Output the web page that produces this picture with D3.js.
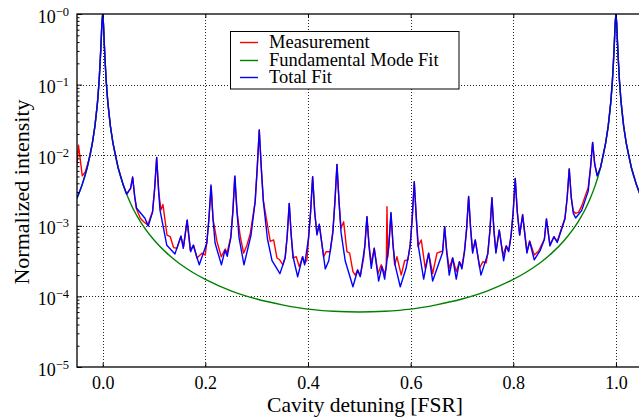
<!DOCTYPE html>
<html><head><meta charset="utf-8">
<script src="https://cdn.jsdelivr.net/npm/d3@7"></script>
<style>body{margin:0;background:#fff}svg{display:block}</style>
</head><body><svg id="c" width="639" height="419"></svg>
<script>
// ---------- data ----------
const xTicks = [0, 0.2, 0.4, 0.6, 0.8, 1.0];
const yTicks = [1, 1e-1, 1e-2, 1e-3, 1e-4, 1e-5];
const yTickExp = ["0", "1", "2", "3", "4", "5"];
const seriesNames = ["Measurement", "Fundamental Mode Fit", "Total Fit"];
const seriesColors = ["#ff0000", "#008000", "#0000ff"];

// [detuning (FSR), normalized intensity]
const mainPeak0 = [[-0.02,1.5e-2],[-0.015,2.6e-2],[-0.01,5.7e-2],[-0.007,0.11],[-0.005,0.20],[-0.003,0.40],[-0.0015,0.73],[0,1.0],[0.0015,0.73],[0.003,0.40],[0.005,0.20],[0.007,0.11],[0.01,5.7e-2],[0.015,2.6e-2],[0.02,1.5e-2],[0.03,6.7e-3],[0.04,3.8e-3]];
const mainPeak1 = [[0.97,6.7e-3],[0.98,1.5e-2],[0.985,2.6e-2],[0.99,5.7e-2],[0.993,0.11],[0.995,0.20],[0.997,0.40],[0.9985,0.73],[1.0,1.0],[1.0015,0.73],[1.003,0.40],[1.005,0.20],[1.007,0.11],[1.01,5.7e-2],[1.015,2.6e-2],[1.02,1.5e-2],[1.03,6.7e-3],[1.04,3.8e-3],[1.05,2.45e-3]];

const measurementMid = [[0.0468,2.8e-3],[0.0544,3.4e-3],[0.0584,4.9e-3],[0.0624,2.6e-3],[0.0655,1.77e-3],[0.0733,1.28e-3],[0.0799,1.14e-3],[0.0877,1.03e-3],[0.0972,1.6e-3],[0.1012,3.3e-3],[0.1052,9.3e-3],[0.1092,3.0e-3],[0.1136,1.67e-3],[0.1175,2.0e-3],[0.1253,7.4e-4],[0.1317,7.0e-4],[0.1383,4.9e-4],[0.1448,4.8e-4],[0.1525,7.0e-4],[0.1578,5.1e-4],[0.1642,1.18e-3],[0.1707,4.5e-4],[0.1773,5.3e-4],[0.1837,3.5e-4],[0.1935,4.1e-4],[0.1999,3.85e-4],[0.203,6.0e-4],[0.207,1.25e-3],[0.2116,3.6e-3],[0.215,1.25e-3],[0.2227,6.0e-4],[0.2311,3.65e-4],[0.2388,4.7e-4],[0.2422,4.1e-4],[0.2497,7.0e-4],[0.2537,1.6e-3],[0.2572,4.96e-3],[0.2617,1.6e-3],[0.2681,7.0e-4],[0.2747,4.1e-4],[0.2811,5.3e-4],[0.2876,7.8e-4],[0.2971,2.2e-3],[0.3011,6.5e-3],[0.3051,2.28e-2],[0.3091,6.5e-3],[0.3131,2.3e-3],[0.3156,1.77e-3],[0.3201,1.13e-3],[0.3265,6.0e-4],[0.3331,6.3e-4],[0.3396,3.5e-4],[0.3448,3.3e-4],[0.3513,2.8e-4],[0.3557,3.65e-4],[0.3595,7.1e-4],[0.3635,2.08e-3],[0.3675,7.1e-4],[0.3707,3.5e-4],[0.3772,3.65e-4],[0.383,2.64e-4],[0.3896,3.65e-4],[0.3935,2.94e-4],[0.398,3.3e-4],[0.4011,6.7e-4],[0.4051,1.57e-3],[0.4091,4.96e-3],[0.4131,1.57e-3],[0.4175,7.8e-4],[0.422,1.05e-3],[0.4305,3.65e-4],[0.4356,4.3e-4],[0.4434,4.3e-4],[0.4485,8.5e-4],[0.4525,2.2e-3],[0.4565,7.4e-3],[0.4605,2.2e-3],[0.4643,9.2e-4],[0.4695,1.14e-3],[0.4759,4.3e-4],[0.4812,4.1e-4],[0.4876,2.24e-4],[0.4921,2.0e-4],[0.4968,2.37e-4],[0.5019,1.96e-4],[0.5085,3.5e-4],[0.5109,5.4e-4],[0.5149,1.35e-3],[0.5189,5.4e-4],[0.5233,2.94e-4],[0.5291,4.8e-4],[0.5364,2.1e-4],[0.5428,2.8e-4],[0.5494,2.1e-4],[0.5525,2.6e-4],[0.5539,1.87e-3],[0.5555,3.6e-4],[0.5577,5.4e-4],[0.5617,1.5e-3],[0.5657,5.4e-4],[0.5689,2.8e-4],[0.5733,3.65e-4],[0.5817,2.0e-4],[0.5883,3.2e-4],[0.5948,3.3e-4],[0.5991,5.5e-4],[0.6031,1.28e-3],[0.6071,4.2e-3],[0.6111,1.28e-3],[0.6143,5.1e-4],[0.6207,6.3e-4],[0.6285,2.5e-4],[0.6351,4.1e-4],[0.6429,2.1e-4],[0.6513,4.1e-4],[0.6623,4.4e-4],[0.6663,9.7e-4],[0.6703,4.4e-4],[0.6752,2.5e-4],[0.6819,3.5e-4],[0.6889,2.24e-4],[0.6951,3.1e-4],[0.70,2.64e-4],[0.705,4.5e-4],[0.709,8.9e-4],[0.713,2.6e-3],[0.717,8.9e-4],[0.7208,4.3e-4],[0.7259,6.3e-4],[0.7345,2.55e-4],[0.7409,3.1e-4],[0.7473,3.0e-4],[0.7504,4.2e-4],[0.7544,8.4e-4],[0.7584,2.5e-3],[0.7624,8.4e-4],[0.7662,4.3e-4],[0.7727,8.7e-4],[0.7799,3.85e-4],[0.7863,5.2e-4],[0.791,4.4e-4],[0.7958,7.4e-4],[0.7998,1.57e-3],[0.8038,4.7e-3],[0.8078,1.57e-3],[0.8124,7.4e-4],[0.8182,1.45e-3],[0.8266,4.3e-4],[0.8319,6.1e-4],[0.8408,3.85e-4],[0.8494,4.4e-4],[0.8606,6.5e-4],[0.8646,1.25e-3],[0.8714,5.4e-4],[0.8792,7.0e-4],[0.8856,6.0e-4],[0.9007,1.3e-3],[0.905,2.5e-3],[0.909,6.4e-3],[0.913,2.5e-3],[0.917,1.6e-3],[0.9215,1.5e-3],[0.927,1.55e-3],[0.9332,1.9e-3],[0.946,3.5e-3],[0.9506,6.8e-3],[0.9546,1.52e-2],[0.9586,7.5e-3],[0.9636,5.1e-3]];
const measurementEdge = [[-0.05,7.3e-3],[-0.0471,1.39e-2],[-0.0397,5.1e-3],[-0.0339,5.8e-3],[-0.0242,1.0e-2]];

const totalFitMid = [[0.0468,2.8e-3],[0.0544,3.4e-3],[0.0584,4.9e-3],[0.0624,2.6e-3],[0.0662,1.77e-3],[0.0824,1.28e-3],[0.0888,9.9e-4],[0.0972,1.56e-3],[0.1012,3.3e-3],[0.1052,9.3e-3],[0.1092,3.0e-3],[0.1117,1.67e-3],[0.125,5.3e-4],[0.1409,4.0e-4],[0.1525,7.2e-4],[0.157,4.8e-4],[0.1648,1.21e-3],[0.1714,4.3e-4],[0.1765,5.3e-4],[0.1882,2.8e-4],[0.203,5.7e-4],[0.207,1.25e-3],[0.211,3.8e-3],[0.215,1.25e-3],[0.219,5.7e-4],[0.2314,2.8e-4],[0.2383,4.5e-4],[0.2427,3.7e-4],[0.2497,6.8e-4],[0.2537,1.6e-3],[0.2577,5.1e-3],[0.2617,1.6e-3],[0.2657,6.8e-4],[0.2753,2.8e-4],[0.2891,7.4e-4],[0.2971,2.2e-3],[0.3011,6.5e-3],[0.3051,2.28e-2],[0.3091,6.5e-3],[0.3131,2.2e-3],[0.3211,6.5e-4],[0.33,3.2e-4],[0.3454,2.1e-4],[0.3555,3.5e-4],[0.3595,7.1e-4],[0.3635,2.08e-3],[0.3675,7.1e-4],[0.3715,3.5e-4],[0.3799,1.9e-4],[0.3896,3.65e-4],[0.3935,2.8e-4],[0.4011,6.7e-4],[0.4051,1.57e-3],[0.4091,4.96e-3],[0.4131,1.57e-3],[0.4175,7.4e-4],[0.422,1.05e-3],[0.4337,2.45e-4],[0.4405,3.2e-4],[0.4485,8.0e-4],[0.4525,2.2e-3],[0.4565,7.4e-3],[0.4605,2.2e-3],[0.4645,8.0e-4],[0.4725,3.2e-4],[0.4876,1.37e-4],[0.4968,2.37e-4],[0.5019,1.9e-4],[0.5109,5.2e-4],[0.5149,1.35e-3],[0.5189,5.2e-4],[0.5233,2.5e-4],[0.5291,4.8e-4],[0.5377,1.65e-4],[0.5441,2.64e-4],[0.5494,1.76e-4],[0.5577,5.4e-4],[0.5617,1.55e-3],[0.5657,5.4e-4],[0.5697,2.8e-4],[0.5798,1.37e-4],[0.5911,2.5e-4],[0.5991,5.1e-4],[0.6031,1.28e-3],[0.6071,4.2e-3],[0.6111,1.28e-3],[0.6151,5.1e-4],[0.6254,1.76e-4],[0.6351,4.1e-4],[0.6429,1.65e-4],[0.6623,4.2e-4],[0.6663,9.7e-4],[0.6703,4.2e-4],[0.6752,2.0e-4],[0.6819,3.5e-4],[0.6889,1.76e-4],[0.6951,3.1e-4],[0.70,2.45e-4],[0.705,4.3e-4],[0.709,8.9e-4],[0.713,2.6e-3],[0.717,8.9e-4],[0.7208,4.1e-4],[0.7259,6.3e-4],[0.737,2.0e-4],[0.7504,4.0e-4],[0.7544,8.4e-4],[0.7584,2.5e-3],[0.7624,8.4e-4],[0.7662,4.1e-4],[0.7727,8.7e-4],[0.7812,3.2e-4],[0.7863,5.2e-4],[0.791,4.3e-4],[0.7958,7.4e-4],[0.7998,1.57e-3],[0.8038,4.7e-3],[0.8078,1.57e-3],[0.8124,7.4e-4],[0.8182,1.42e-3],[0.8266,4.1e-4],[0.8319,6.0e-4],[0.8408,3.3e-4],[0.8526,4.5e-4],[0.8606,6.4e-4],[0.8646,1.25e-3],[0.8714,5.2e-4],[0.8792,7.0e-4],[0.8856,5.8e-4],[0.9007,1.25e-3],[0.905,2.5e-3],[0.909,6.4e-3],[0.913,2.5e-3],[0.917,1.5e-3],[0.9215,1.29e-3],[0.9332,1.64e-3],[0.946,3.1e-3],[0.9506,6.8e-3],[0.9546,1.52e-2],[0.9586,7.5e-3],[0.9636,5.1e-3]];
const totalFitEdge = [[-0.05,2.45e-3],[-0.04,3.8e-3],[-0.03,6.7e-3]];

const fundamentalMid = [[0.05,2.45e-3],[0.06,1.7e-3],[0.075,1.1e-3],[0.1,6.3e-4],[0.125,4.1e-4],[0.15,2.9e-4],[0.175,2.2e-4],[0.2,1.74e-4],[0.25,1.2e-4],[0.3,9.2e-5],[0.35,7.6e-5],[0.4,6.6e-5],[0.45,6.15e-5],[0.5,6.0e-5],[0.55,6.15e-5],[0.6,6.6e-5],[0.65,7.6e-5],[0.7,9.2e-5],[0.75,1.2e-4],[0.8,1.74e-4],[0.825,2.2e-4],[0.85,2.9e-4],[0.875,4.1e-4],[0.9,6.3e-4],[0.925,1.1e-3],[0.94,1.7e-3],[0.95,2.45e-3],[0.96,3.8e-3]];

const measurement = [...measurementEdge, ...mainPeak0, ...measurementMid, ...mainPeak1];
const totalFit = [...totalFitEdge, ...mainPeak0, ...totalFitMid, ...mainPeak1];
const fundamentalFit = [...totalFitEdge, ...mainPeak0, ...fundamentalMid, ...mainPeak1];

// ---------- layout ----------
const FONT = '"Liberation Serif"';
const svg = d3.select("#c");
const L = 77, T = 14, B = 367, R = 641.6;
const x = d3.scaleLinear().domain([-0.05, 1.05]).range([L, R]);
const y = d3.scaleLog().domain([1e-5, 1]).range([B, T]);

svg.append("rect").attr("width", 639).attr("height", 419).attr("fill", "#fff");
svg.append("defs").append("clipPath").attr("id", "clip")
  .append("rect").attr("x", L).attr("y", T).attr("width", R - L).attr("height", B - T);

// grid
const grid = svg.append("g").attr("stroke", "#000").attr("stroke-width", 1).attr("stroke-dasharray", "1,2").attr("opacity", 0.85);
grid.selectAll(".gx").data(xTicks).join("line")
  .attr("x1", d => Math.round(x(d)) + 0.5).attr("x2", d => Math.round(x(d)) + 0.5)
  .attr("y1", T).attr("y2", B);
grid.selectAll(".gy").data(yTicks.slice(1, -1)).join("line")
  .attr("y1", d => Math.round(y(d)) + 0.5).attr("y2", d => Math.round(y(d)) + 0.5)
  .attr("x1", L).attr("x2", R);

// lines
const line = d3.line().x(d => x(d[0])).y(d => y(d[1]));
const lineSmooth = d3.line().x(d => x(d[0])).y(d => y(d[1])).curve(d3.curveMonotoneX);
const plot = svg.append("g").attr("clip-path", "url(#clip)");
plot.append("path").datum(measurement).attr("d", line).attr("fill", "none").attr("stroke", seriesColors[0]).attr("stroke-width", 1.4).attr("stroke-linejoin", "round");
plot.append("path").datum(fundamentalFit).attr("d", lineSmooth).attr("fill", "none").attr("stroke", seriesColors[1]).attr("stroke-width", 1.4);
plot.append("path").datum(totalFit).attr("d", line).attr("fill", "none").attr("stroke", seriesColors[2]).attr("stroke-width", 1.4).attr("stroke-linejoin", "round");

// frame
svg.append("rect").attr("x", L).attr("y", T).attr("width", R - L).attr("height", B - T)
  .attr("fill", "none").attr("stroke", "#000").attr("stroke-width", 1.3);

// x axis
const xAxis = d3.axisBottom(x).tickValues(xTicks).tickFormat(d3.format(".1f")).tickSizeInner(-4).tickSizeOuter(0).tickPadding(9);
const gx = svg.append("g").attr("transform", `translate(0,${B})`).call(xAxis);
gx.select(".domain").remove();
gx.selectAll("text").attr("font-size", null).style("font-family", FONT).style("font-size", "18px").attr("fill", "#000");
const xTop = d3.axisTop(x).tickValues(xTicks).tickFormat("").tickSizeInner(-4).tickSizeOuter(0);
svg.append("g").attr("transform", `translate(0,${T})`).call(xTop).select(".domain").remove();

// y axis
const yAxis = d3.axisLeft(y).tickValues(yTicks).tickFormat("").tickSizeInner(-5).tickSizeOuter(0);
const gy = svg.append("g").attr("transform", `translate(${L},0)`).call(yAxis);
gy.select(".domain").remove();
const yMinor = d3.axisLeft(y).tickValues(y.ticks().filter(v => !yTicks.some(t => Math.abs(t - v) / t < 1e-6))).tickFormat("").tickSizeInner(-2.5).tickSizeOuter(0);
svg.append("g").attr("transform", `translate(${L},0)`).call(yMinor).select(".domain").remove();

const ylab = svg.append("g");
yTicks.forEach((v, i) => {
  const t = ylab.append("text").attr("x", L - 8).attr("y", y(v) + 8.5).attr("text-anchor", "end").style("font-family", FONT);
  t.append("tspan").style("font-size", "18px").text("10");
  t.append("tspan").style("font-size", "12.5px").attr("dy", -7).text("\u2212" + yTickExp[i]);
});

// axis titles
svg.append("text").attr("x", 365).attr("y", 412).attr("text-anchor", "middle").style("font-family", FONT).style("font-size", "21.5px").text("Cavity detuning [FSR]");
svg.append("text").attr("transform", "translate(29,192) rotate(-90)").attr("text-anchor", "middle").style("font-family", FONT).style("font-size", "22px").text("Normalized intensity");

// legend
const lg = svg.append("g");
lg.append("rect").attr("x", 230.5).attr("y", 31.5).attr("width", 228.5).attr("height", 57.5).attr("fill", "#fff").attr("stroke", "#000").attr("stroke-width", 1);
const rows = [48, 66, 83];
seriesNames.forEach((n, i) => {
  lg.append("line").attr("x1", 240).attr("x2", 258).attr("y1", rows[i] - 5.5).attr("y2", rows[i] - 5.5).attr("stroke", seriesColors[i]).attr("stroke-width", 1.4);
  lg.append("text").attr("x", 269).attr("y", rows[i]).style("font-family", FONT).style("font-size", "18.5px").text(n);
});
</script></body></html>
